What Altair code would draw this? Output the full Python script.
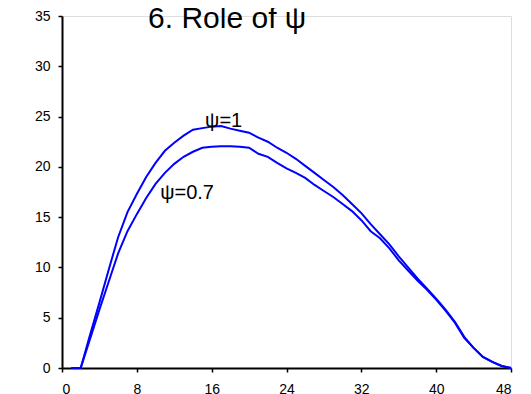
import altair as alt
import pandas as pd

hours = list(range(1, 49))
psi_1 = [0, 0, 3.3, 6.5, 9.8, 13.0, 15.5, 17.3, 19.0, 20.4, 21.6, 22.4, 23.1, 23.7,
         23.85, 24.0, 24.05, 23.8, 23.6, 23.4, 22.9, 22.5, 21.9, 21.4, 20.8, 20.1,
         19.4, 18.7, 18.0, 17.2, 16.3, 15.4, 14.3, 13.3, 12.3, 11.1, 10.0, 8.9, 7.9,
         6.9, 5.8, 4.6, 3.1, 2.0, 1.1, 0.6, 0.2, 0]
psi_07 = [0, 0, 2.9, 5.8, 8.6, 11.4, 13.6, 15.3, 16.9, 18.3, 19.4, 20.3, 21.0, 21.5,
          21.9, 22.0, 22.05, 22.05, 22.0, 21.9, 21.3, 21.0, 20.4, 19.85, 19.4, 18.9,
          18.2, 17.6, 17.0, 16.3, 15.6, 14.7, 13.6, 12.9, 11.9, 10.7, 9.7, 8.7, 7.8,
          6.8, 5.7, 4.5, 3.0, 2.0, 1.1, 0.6, 0.2, 0]
series_names = ["ψ=1", "ψ=0.7"]

label_text = ["ψ=1", "ψ=0.7"]
label_x = [15.3, 10.5]
label_y = [24.0, 16.8]
title_text = ["6. Role of ψ"]
title_x = [9.2]
title_y = [33.8]
x_ticks = [0, 8, 16, 24, 32, 40, 48]
y_ticks = [0, 5, 10, 15, 20, 25, 30, 35]

df = pd.DataFrame({
    "x": hours * 2,
    "y": psi_1 + psi_07,
    "s": [series_names[0]] * len(hours) + [series_names[1]] * len(hours),
})
labels = pd.DataFrame({"t": label_text, "x": label_x, "y": label_y})
title_df = pd.DataFrame({"t": title_text, "x": title_x, "y": title_y})

FONT = "Liberation Sans"
xs = alt.Scale(domain=[0, 48], nice=False)
ys = alt.Scale(domain=[0, 35], nice=False)

lines = alt.Chart(df).mark_line(color="#0000FF", strokeWidth=2).encode(
    x=alt.X("x:Q", scale=xs, axis=alt.Axis(values=x_ticks, title=None, grid=False,
                                           tickSize=4, labelPadding=10, labelFontSize=14,
                                           labelFont=FONT, labelColor="black",
                                           domainColor="black", tickColor="black",
                                           domainWidth=2, tickWidth=1.5)),
    y=alt.Y("y:Q", scale=ys, axis=alt.Axis(values=y_ticks, title=None, grid=False,
                                           tickSize=4, labelPadding=8, labelFontSize=14,
                                           labelFont=FONT, labelColor="black",
                                           domainColor="black", tickColor="black",
                                           domainWidth=2, tickWidth=1.5)),
    detail="s:N",
)

text = alt.Chart(labels).mark_text(align="left", baseline="alphabetic", fontSize=20,
                                   font=FONT, color="black").encode(
    x=alt.X("x:Q", scale=xs), y=alt.Y("y:Q", scale=ys), text="t:N")

title = alt.Chart(title_df).mark_text(align="left", baseline="alphabetic", fontSize=30,
                                      font=FONT, color="black").encode(
    x=alt.X("x:Q", scale=xs), y=alt.Y("y:Q", scale=ys), text="t:N")

chart = alt.layer(lines, text, title).properties(
    width=449, height=352,
    autosize=alt.AutoSizeParams(type="none"),
    padding={"left": 54, "top": 8, "right": 10, "bottom": 26},
).configure_view(stroke=None).configure(background="white")

chart.save("out.html", embed_options={"renderer": "svg", "actions": False})
